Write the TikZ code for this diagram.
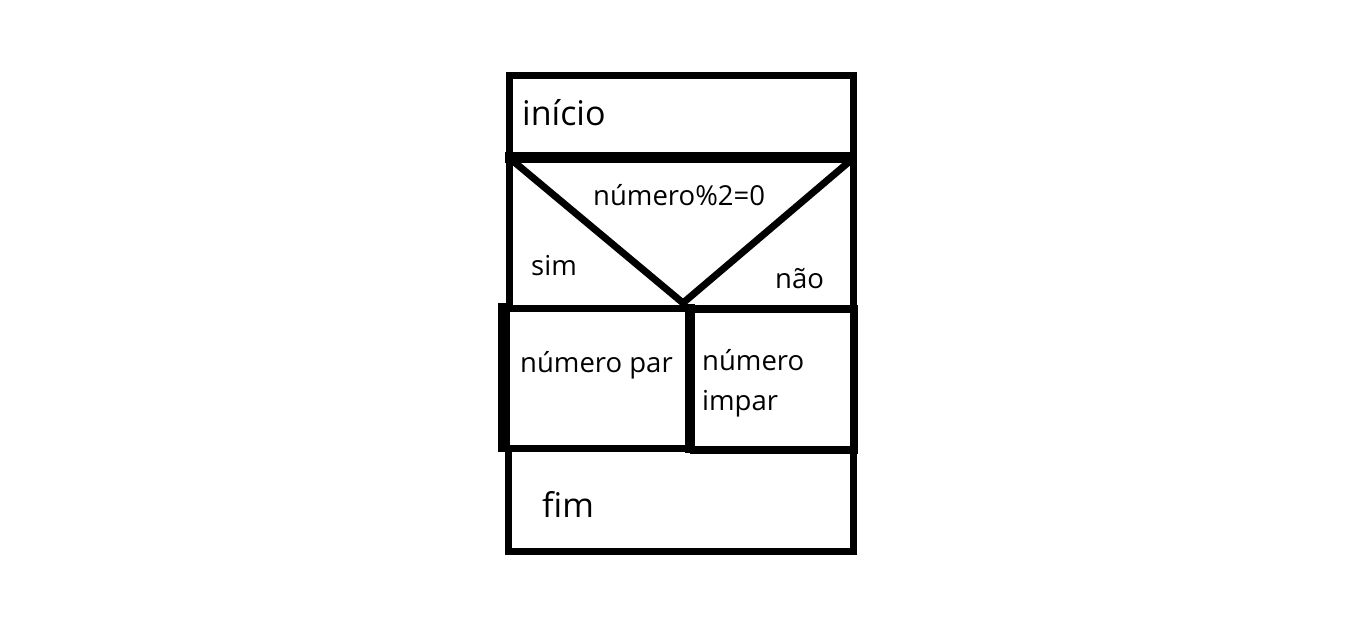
\documentclass[tikz,border=0pt]{standalone}
\usepackage{fontspec}
\setmainfont{Open Sans}
\begin{document}
\begin{tikzpicture}[x=1pt,y=-1pt,line join=miter,font=\fontsize{27.5}{31}\selectfont,
    txt/.style={anchor=base west,inner sep=0pt},
    big/.style={txt,font=\fontsize{34}{38}\selectfont}]
    \useasboundingbox[fill=white] (0,0) rectangle (1350,629);
    % bloco inicio
    \draw[line width=7pt] (509,75) rectangle (853,157);
    \node[big] (inicio) at (522,125) {início};
    % decisao
    \draw[line width=7pt] (509,157)--(509,306) (853,157)--(853,306);
    \draw[line width=11pt] (505,157)--(857,157);
    \coordinate (tl) at (513,161);
    \coordinate (v) at (683,303);
    \coordinate (tr) at (850,161);
    \draw[line width=7pt] (tl)--(v)--(tr);
    \node[txt] (cond) at (593,205) {número\%2=0};
    \node[txt] (sim) at (531,275) {sim};
    \node[txt] (nao) at (775,288) {não};
    % ramos
    \draw[line width=7pt] (504,308.5)--(690,308.5) (504,448.5)--(690,448.5);
    \draw[line width=12pt] (504,303)--(504,452);
    \draw[line width=8pt] (690,308.5)--(854,308.5)--(854,450)--(690,450);
    \draw[line width=10pt] (690,304)--(690,453);
    \node[txt] (par) at (520,372) {número par};
    \node[txt] (impar) at (702,370) {número};
    \node[txt] (impar2) at (702,410) {impar};
    % bloco fim
    \draw[line width=7pt] (508,450)--(508,551.5)--(853.5,551.5)--(853.5,450);
    \node[big] (fim) at (542,517) {fim};
\end{tikzpicture}
\end{document}
